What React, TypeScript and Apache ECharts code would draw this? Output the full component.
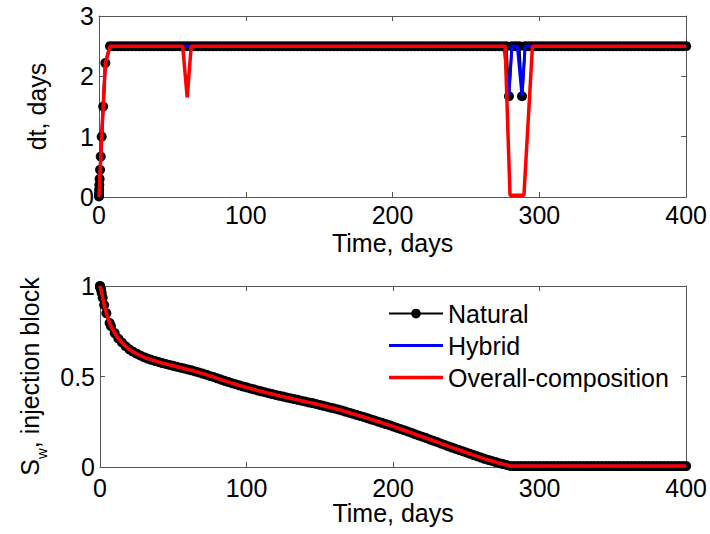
import React, { useEffect, useRef } from "react";
import * as echarts from "echarts";

// ---------- data ----------
const timeTicks = [0, 100, 200, 300, 400];
const dtTicks = [0, 1, 2, 3];
const swTicks = [0, 0.5, 1];
const seriesNames = ["Natural", "Hybrid", "Overall-composition"];

// dt (days) vs time (days) — Natural (markers)
const dtNatural: [number, number][] = [
  [0, 0.01], [0.01, 0.03], [0.04, 0.06], [0.1, 0.12], [0.22, 0.2], [0.42, 0.3], [0.72, 0.45],
  [1.17, 0.67], [1.84, 1.0], [2.84, 1.5], [4.34, 2.22],
  [7.5, 2.5], [10, 2.5], [12.5, 2.5], [15, 2.5], [17.5, 2.5], [20, 2.5], [22.5, 2.5], [25, 2.5],
  [27.5, 2.5], [30, 2.5], [32.5, 2.5], [35, 2.5], [37.5, 2.5], [40, 2.5], [42.5, 2.5], [45, 2.5],
  [47.5, 2.5], [50, 2.5], [52.5, 2.5], [55, 2.5], [57.5, 2.5], [60, 2.5], [62.5, 2.5], [65, 2.5],
  [67.5, 2.5], [70, 2.5], [72.5, 2.5], [75, 2.5], [77.5, 2.5], [80, 2.5], [82.5, 2.5], [85, 2.5],
  [87.5, 2.5], [90, 2.5], [92.5, 2.5], [95, 2.5], [97.5, 2.5], [100, 2.5], [102.5, 2.5], [105, 2.5],
  [107.5, 2.5], [110, 2.5], [112.5, 2.5], [115, 2.5], [117.5, 2.5], [120, 2.5], [122.5, 2.5], [125, 2.5],
  [127.5, 2.5], [130, 2.5], [132.5, 2.5], [135, 2.5], [137.5, 2.5], [140, 2.5], [142.5, 2.5], [145, 2.5],
  [147.5, 2.5], [150, 2.5], [152.5, 2.5], [155, 2.5], [157.5, 2.5], [160, 2.5], [162.5, 2.5], [165, 2.5],
  [167.5, 2.5], [170, 2.5], [172.5, 2.5], [175, 2.5], [177.5, 2.5], [180, 2.5], [182.5, 2.5], [185, 2.5],
  [187.5, 2.5], [190, 2.5], [192.5, 2.5], [195, 2.5], [197.5, 2.5], [200, 2.5], [202.5, 2.5], [205, 2.5],
  [207.5, 2.5], [210, 2.5], [212.5, 2.5], [215, 2.5], [217.5, 2.5], [220, 2.5], [222.5, 2.5], [225, 2.5],
  [227.5, 2.5], [230, 2.5], [232.5, 2.5], [235, 2.5], [237.5, 2.5], [240, 2.5], [242.5, 2.5], [245, 2.5],
  [247.5, 2.5], [250, 2.5], [252.5, 2.5], [255, 2.5], [257.5, 2.5], [260, 2.5], [262.5, 2.5], [265, 2.5],
  [267.5, 2.5], [270, 2.5], [272.5, 2.5], [275, 2.5], [277.5, 2.5],
  [279.3, 1.67], [281.3, 2.5], [283.8, 2.5], [286.3, 2.5], [288.2, 1.67], [290.3, 2.5],
  [292.5, 2.5], [295, 2.5], [297.5, 2.5], [300, 2.5], [302.5, 2.5], [305, 2.5], [307.5, 2.5], [310, 2.5],
  [312.5, 2.5], [315, 2.5], [317.5, 2.5], [320, 2.5], [322.5, 2.5], [325, 2.5], [327.5, 2.5], [330, 2.5],
  [332.5, 2.5], [335, 2.5], [337.5, 2.5], [340, 2.5], [342.5, 2.5], [345, 2.5], [347.5, 2.5], [350, 2.5],
  [352.5, 2.5], [355, 2.5], [357.5, 2.5], [360, 2.5], [362.5, 2.5], [365, 2.5], [367.5, 2.5], [370, 2.5],
  [372.5, 2.5], [375, 2.5], [377.5, 2.5], [380, 2.5], [382.5, 2.5], [385, 2.5], [387.5, 2.5], [390, 2.5],
  [392.5, 2.5], [395, 2.5], [397.5, 2.5], [400, 2.5],
];

// dt vs time — Hybrid (line)
const dtHybrid: [number, number][] = [
  [0, 0.01], [1.84, 1.0], [2.84, 1.5], [4.34, 2.22], [7.5, 2.5],
  [276, 2.5], [279.2, 1.67], [281.3, 2.5], [285, 2.5], [288.2, 1.67], [290.3, 2.5], [400, 2.5],
];

// dt vs time — Overall-composition (line)
const dtOverall: [number, number][] = [
  [0, 0.0], [1.84, 1.0], [2.84, 1.5], [4.34, 2.22], [7.5, 2.5],
  [57, 2.5], [60.1, 1.65], [62.8, 2.5],
  [276.7, 2.5], [280, 0.03], [289.5, 0.03], [295.3, 2.5], [400, 2.5],
];

// Sw in injection block vs time — Natural (markers)
const swNatural: [number, number][] = [
  [0, 1], [0.01, 0.999], [0.04, 0.998], [0.1, 0.996], [0.22, 0.993], [0.42, 0.988], [0.72, 0.978],
  [1.17, 0.962], [1.84, 0.935], [2.84, 0.895], [4.34, 0.85], [6.56, 0.795], [7.5, 0.778],
  [10, 0.74], [12.5, 0.71], [15, 0.688], [17.5, 0.667], [20, 0.65], [22.5, 0.637], [25, 0.626],
  [27.5, 0.616], [30, 0.607], [32.5, 0.599], [35, 0.592], [37.5, 0.586], [40, 0.58], [42.5, 0.574],
  [45, 0.569], [47.5, 0.564], [50, 0.559], [52.5, 0.554], [55, 0.549], [57.5, 0.544], [60, 0.539],
  [62.5, 0.534], [65, 0.528], [67.5, 0.522], [70, 0.516], [72.5, 0.51], [75, 0.503], [77.5, 0.497],
  [80, 0.49], [82.5, 0.483], [85, 0.476], [87.5, 0.47], [90, 0.463], [92.5, 0.457], [95, 0.451],
  [97.5, 0.445], [100, 0.44], [102.5, 0.434], [105, 0.429], [107.5, 0.423], [110, 0.418],
  [112.5, 0.413], [115, 0.408], [117.5, 0.403], [120, 0.398], [122.5, 0.393], [125, 0.389],
  [127.5, 0.384], [130, 0.38], [132.5, 0.375], [135, 0.371], [137.5, 0.366], [140, 0.362],
  [142.5, 0.357], [145, 0.353], [147.5, 0.348], [150, 0.343], [152.5, 0.338], [155, 0.333],
  [157.5, 0.328], [160, 0.323], [162.5, 0.318], [165, 0.312], [167.5, 0.306], [170, 0.3],
  [172.5, 0.294], [175, 0.288], [177.5, 0.282], [180, 0.276], [182.5, 0.27], [185, 0.263],
  [187.5, 0.257], [190, 0.25], [192.5, 0.244], [195, 0.237], [197.5, 0.231], [200, 0.224],
  [202.5, 0.217], [205, 0.21], [207.5, 0.203], [210, 0.196], [212.5, 0.189], [215, 0.181],
  [217.5, 0.174], [220, 0.167], [222.5, 0.16], [225, 0.152], [227.5, 0.145], [230, 0.138],
  [232.5, 0.13], [235, 0.123], [237.5, 0.115], [240, 0.108], [242.5, 0.101], [245, 0.094],
  [247.5, 0.087], [250, 0.08], [252.5, 0.073], [255, 0.066], [257.5, 0.059], [260, 0.052],
  [262.5, 0.045], [265, 0.039], [267.5, 0.033], [270, 0.027], [272.5, 0.021], [275, 0.016],
  [277.5, 0.011], [280, 0.006], [282.5, 0.005], [285, 0.005], [287.5, 0.005], [290, 0.005],
  [292.5, 0.005], [295, 0.005], [297.5, 0.005], [300, 0.005], [302.5, 0.005], [305, 0.005],
  [307.5, 0.005], [310, 0.005], [312.5, 0.005], [315, 0.005], [317.5, 0.005], [320, 0.005],
  [322.5, 0.005], [325, 0.005], [327.5, 0.005], [330, 0.005], [332.5, 0.005], [335, 0.005],
  [337.5, 0.005], [340, 0.005], [342.5, 0.005], [345, 0.005], [347.5, 0.005], [350, 0.005],
  [352.5, 0.005], [355, 0.005], [357.5, 0.005], [360, 0.005], [362.5, 0.005], [365, 0.005],
  [367.5, 0.005], [370, 0.005], [372.5, 0.005], [375, 0.005], [377.5, 0.005], [380, 0.005],
  [382.5, 0.005], [385, 0.005], [387.5, 0.005], [390, 0.005], [392.5, 0.005], [395, 0.005],
  [397.5, 0.005], [400, 0.005],
];
// Hybrid and Overall-composition coincide with Natural on this panel
const swHybrid = swNatural;
const swOverall = swNatural;

// ---------- styles ----------
const FONT = '"Liberation Sans", Arial, Helvetica, sans-serif';
const AXC = "#555";
const FS = 25;
const COLORS = ["#000000", "#0000ff", "#ff0000"];

function mkX(gridIndex: number, labelMargin: number, nameGap: number) {
  const min = timeTicks[0];
  const max = timeTicks[timeTicks.length - 1];
  const interval = timeTicks[1] - timeTicks[0];
  const base = {
    type: "value" as const,
    gridIndex,
    min,
    max,
    interval,
    splitLine: { show: false },
    axisLine: { show: true, onZero: false, lineStyle: { color: AXC, width: 1 } },
    axisTick: { show: true, inside: true, length: 5, lineStyle: { color: AXC } },
  };
  return [
    {
      ...base,
      position: "bottom",
      axisLabel: { show: true, fontSize: FS, color: "#000", fontFamily: FONT, margin: labelMargin },
      name: "Time, days",
      nameLocation: "middle",
      nameGap,
      nameTextStyle: { fontSize: FS, color: "#000", fontFamily: FONT },
    },
    { ...base, position: "top", axisLabel: { show: false } },
  ];
}

function mkY(gridIndex: number, ticks: number[], name: any, nameGap: number, rich?: any) {
  const min = ticks[0];
  const max = ticks[ticks.length - 1];
  const interval = ticks[1] - ticks[0];
  const base = {
    type: "value" as const,
    gridIndex,
    min,
    max,
    interval,
    splitLine: { show: false },
    axisLine: { show: true, onZero: false, lineStyle: { color: AXC, width: 1 } },
    axisTick: { show: true, inside: true, length: 5, lineStyle: { color: AXC } },
  };
  return [
    {
      ...base,
      position: "left",
      axisLabel: { show: true, fontSize: FS, color: "#000", fontFamily: FONT, margin: 5 },
      name,
      nameLocation: "middle",
      nameGap,
      nameTextStyle: { fontSize: FS, color: "#000", fontFamily: FONT, rich },
    },
    { ...base, position: "right", axisLabel: { show: false } },
  ];
}

export default function App() {
  const ref = useRef<HTMLDivElement>(null);

  useEffect(() => {
    if (!ref.current) return;
    const chart = echarts.init(ref.current, null, { renderer: "svg" });

    const lineSeries = (
      name: string,
      data: [number, number][],
      axisIdx: number,
      color: string,
      width: number,
      marker: boolean,
      z: number
    ) => ({
      type: "line",
      name,
      data,
      xAxisIndex: axisIdx,
      yAxisIndex: axisIdx,
      clip: false,
      z,
      symbol: marker ? "circle" : "none",
      symbolSize: 10,
      showSymbol: marker,
      itemStyle: { color },
      lineStyle: { color, width },
      emphasis: { disabled: true },
    });

    const option: any = {
      animation: false,
      backgroundColor: "#ffffff",
      grid: [
        { left: 99, top: 16, width: 588, height: 181, containLabel: false },
        { left: 100, top: 286, width: 587, height: 181, containLabel: false },
      ],
      xAxis: [...mkX(0, 5, 33), ...mkX(1, 8, 31)],
      yAxis: [
        ...mkY(0, dtTicks, "dt, days", 50),
        ...mkY(1, swTicks, "{m|S}{s|w}{m|, injection block}", 57, {
          m: { fontSize: FS, fontFamily: FONT, color: "#000", verticalAlign: "top", lineHeight: 25 },
          s: {
            fontSize: 15,
            fontFamily: FONT,
            color: "#000",
            verticalAlign: "top",
            padding: [17, 0, 0, 0],
            lineHeight: 15,
          },
        }),
      ],
      legend: {
        show: true,
        orient: "vertical",
        left: 383,
        top: 296,
        itemWidth: 54,
        itemHeight: 12,
        itemGap: 7,
        data: [
          { name: seriesNames[0] },
          { name: seriesNames[1], icon: "path://M0,0H54V3H0Z" },
          { name: seriesNames[2], icon: "path://M0,0H54V3.5H0Z" },
        ],
        textStyle: { fontSize: FS, color: "#000", fontFamily: FONT, lineHeight: 24 },
        selectedMode: false,
      },
      series: [
        lineSeries(seriesNames[0], dtNatural, 0, COLORS[0], 2.5, true, 2),
        lineSeries(seriesNames[1], dtHybrid, 0, COLORS[1], 3, false, 3),
        lineSeries(seriesNames[2], dtOverall, 0, COLORS[2], 3.5, false, 4),
        lineSeries(seriesNames[0], swNatural, 2, COLORS[0], 2.5, true, 2),
        lineSeries(seriesNames[1], swHybrid, 2, COLORS[1], 3, false, 3),
        lineSeries(seriesNames[2], swOverall, 2, COLORS[2], 3.5, false, 4),
      ],
    };
    chart.setOption(option);
    return () => chart.dispose();
  }, []);

  return (
    <div
      ref={ref}
      style={{ position: "absolute", left: 0, top: 0, width: 710, height: 534, background: "#fff" }}
    />
  );
}
